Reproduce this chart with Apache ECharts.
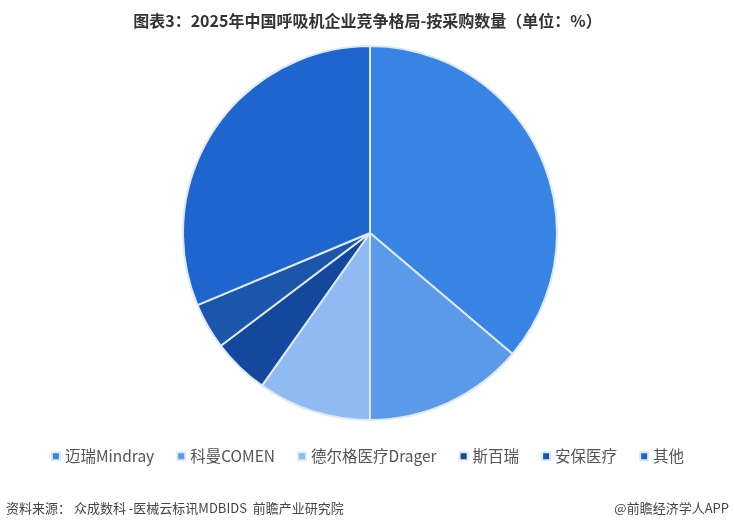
<!DOCTYPE html>
<html><head><meta charset="utf-8">
<script src="https://cdn.jsdelivr.net/npm/echarts@6/dist/echarts.min.js"></script>
<style>html,body{margin:0;padding:0;background:#fff}#c{width:735px;height:532px}</style>
</head><body><div id="c"></div>
<script>
const categories = ['迈瑞Mindray','科曼COMEN','德尔格医疗Drager','斯百瑞','安保医疗','其他'];
const values = [36.2, 13.8, 9.8, 4.9, 4.0, 31.3];
const colors = ['#3884e4','#5a9ae8','#90bbf2','#13489c','#1b56aa','#1e66cd'];
const font = '"Noto Sans CJK SC", sans-serif';
const chart = echarts.init(document.getElementById('c'));
chart.setOption({
  animation:false,
  title:{text:'图表3：2025年中国呼吸机企业竞争格局-按采购数量（单位：%）',left:'center',top:8,
    textStyle:{fontFamily:font,fontSize:16,fontWeight:'bold',color:'#333'}},
  legend:{data:categories,bottom:63,left:'center',itemWidth:8,itemHeight:8,itemGap:22,icon:'rect',
    textStyle:{fontFamily:font,fontSize:15.5,color:'#555'}},
  graphic:[
    {type:'text',left:6,top:502,style:{text:'资料来源： 众成数科 -医械云标讯MDBIDS  前瞻产业研究院',font:'13px '+font,fill:'#444'}},
    {type:'text',right:6,top:502,style:{text:'@前瞻经济学人APP',font:'13px '+font,fill:'#444'}}
  ],
  series:[{type:'pie',center:[370,233],radius:[0,187],startAngle:90,clockwise:true,
    label:{show:false},labelLine:{show:false},
    itemStyle:{borderColor:'#dde9f7',borderWidth:2},
    emphasis:{disabled:true},
    data:categories.map((n,i)=>({name:n,value:values[i],itemStyle:{color:colors[i]}}))}]
});
</script></body></html>
